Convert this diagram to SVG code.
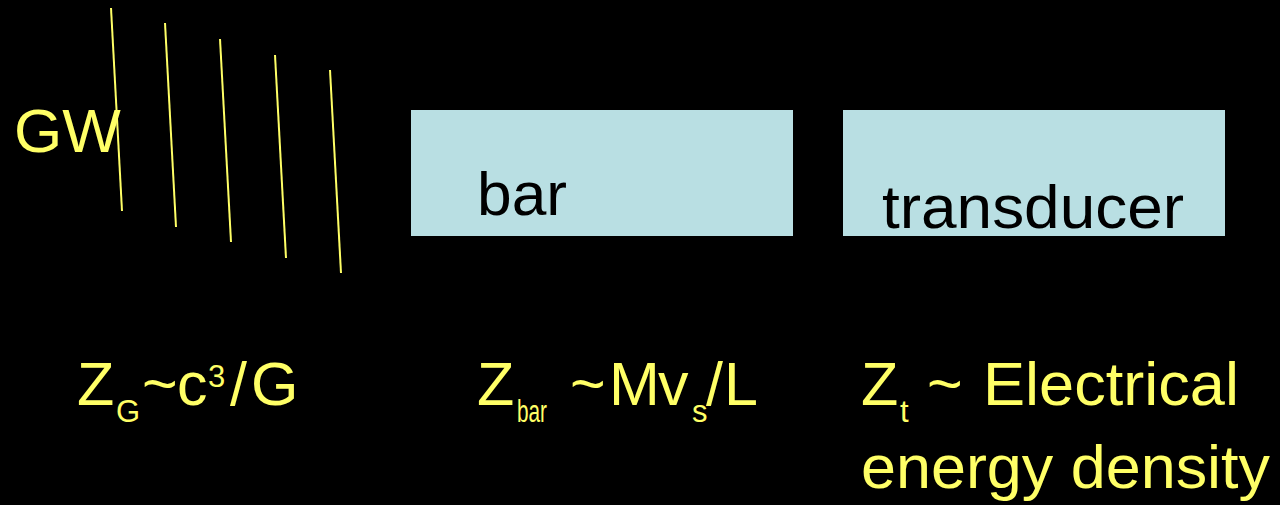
<svg xmlns="http://www.w3.org/2000/svg" width="1280" height="505" viewBox="0 0 1280 505">
<style>
.y{fill:#ffff66;font-family:"Liberation Sans",Arial,sans-serif;font-size:61px}
.s{font-size:31px}
.k{fill:#000;font-family:"Liberation Sans",Arial,sans-serif;font-size:62px}
.w{stroke:#ffff66;stroke-width:2;fill:none}
.box{fill:#b9dfe3}
</style>
<rect width="1280" height="505" fill="#000"/>
<g id="gw">
<text class="y" x="14" y="152" style="font-size:62px">GW</text>
<line class="w" x1="111" y1="8" x2="122" y2="211"/>
<line class="w" x1="165" y1="23" x2="176" y2="227"/>
<line class="w" x1="220" y1="39" x2="231" y2="242"/>
<line class="w" x1="275" y1="55" x2="286" y2="258"/>
<line class="w" x1="330" y1="70" x2="341" y2="273"/>
</g>
<g id="bar">
<rect class="box" x="411" y="110" width="382" height="126"/>
<text class="k" x="477" y="215" textLength="90" lengthAdjust="spacingAndGlyphs">bar</text>
</g>
<g id="transducer">
<rect class="box" x="843" y="110" width="382" height="126"/>
<text class="k" x="882" y="228" textLength="302" lengthAdjust="spacingAndGlyphs">transducer</text>
</g>
<g id="labels">
<text class="y" x="77" y="405">Z</text>
<text class="y s" x="116" y="422">G</text>
<text class="y" x="142" y="405">~</text>
<text class="y" x="177" y="405">c</text>
<text class="y s" x="208" y="387">3</text>
<text class="y" x="230" y="405">/</text>
<text class="y" x="251" y="405">G</text>

<text class="y" x="477" y="405">Z</text>
<text class="y s" x="517" y="422" textLength="30" lengthAdjust="spacingAndGlyphs">bar</text>
<text class="y" x="570" y="405">~</text>
<text class="y" x="609" y="405">M</text>
<text class="y" x="658" y="405">v</text>
<text class="y s" x="692" y="422">s</text>
<text class="y" x="706" y="405">/</text>
<text class="y" x="724" y="405">L</text>

<text class="y" x="861" y="405">Z</text>
<text class="y s" x="900" y="422">t</text>
<text class="y" x="927" y="405">~</text>
<text class="y" x="983" y="405" textLength="256" lengthAdjust="spacingAndGlyphs">Electrical</text>
<text class="y" x="861" y="488" textLength="409" lengthAdjust="spacingAndGlyphs">energy density</text>
</g>
</svg>
